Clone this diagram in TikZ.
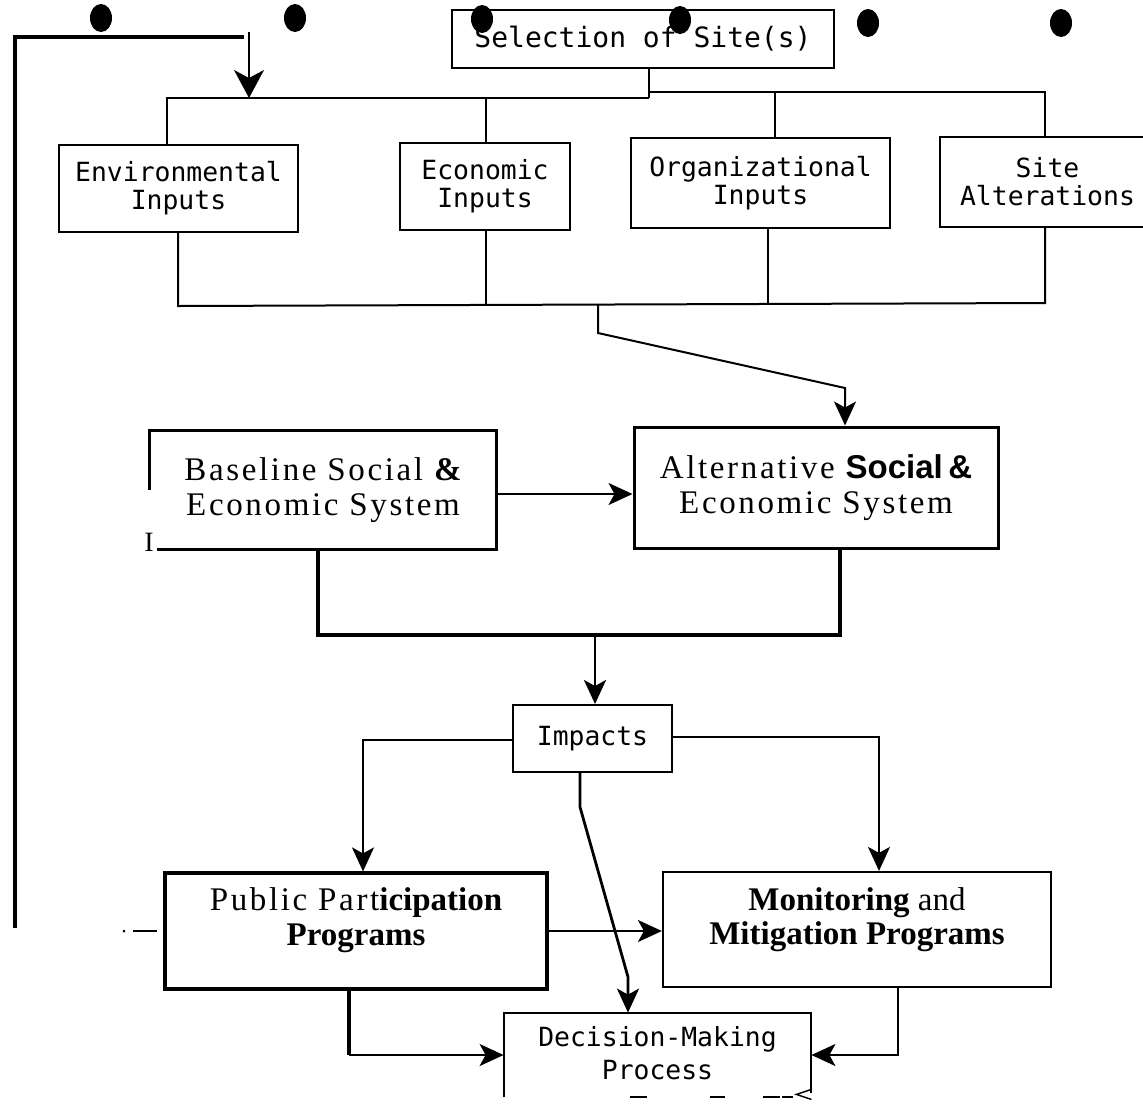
\documentclass[tikz,border=0pt]{standalone}
\usepackage{fontspec}
\setmainfont{Liberation Serif}
\setmonofont{DejaVu Sans Mono}
\newfontfamily\spacedserif[LetterSpace=8]{Liberation Serif}
\newfontfamily\plainserif{Liberation Serif}
\usetikzlibrary{arrows.meta}
\begin{document}
\begin{tikzpicture}[x=0.5pt,y=-0.5pt,
  wire/.style={line width=1pt},
  heavy/.style={line width=1.6pt},
  flow/.style={wire,-{Stealth[length=12pt,width=11pt,inset=3pt]}},
  thinflow/.style={line width=0.6pt,-{Stealth[length=14pt,width=15pt,inset=4pt]}},
  monobox/.style={draw,line width=1pt,inner sep=0pt,align=center,
    font=\ttfamily\fontsize{13.2}{14}\selectfont},
  seriftext/.style={inner sep=0pt,align=center,font=\spacedserif\fontsize{16.5}{17.5}\selectfont},
  framebox/.style={draw,inner sep=0pt},
  hole/.style={fill=black}
]
\useasboundingbox (0,0) rectangle (1143,1104);
\clip (0,0) rectangle (1143,1104);

% ---- top row ----
\node[monobox,minimum width=191pt,minimum height=29pt,
      font=\ttfamily\fontsize{14}{15}\selectfont] (sel) at (643,39) {Selection of Site(s)};
\node[monobox,minimum width=119.5pt,minimum height=43.5pt] (env) at (178.5,188.5) {Environmental\\Inputs};
\node[monobox,minimum width=85pt,minimum height=43.5pt] (eco) at (485,186.5) {Economic\\Inputs};
\node[monobox,minimum width=129.5pt,minimum height=45pt] (org) at (760.5,183) {Organizational\\Inputs};
\node[monobox,minimum width=107.5pt,minimum height=45pt] (site) at (1047.5,182) {Site\\Alterations};

% distribution bus under the site selection (left half sits a little lower)
\coordinate (tb0) at (167,98);
\coordinate (tbL) at (649,98);
\coordinate (tbs) at (649,92);
\coordinate (tb1) at (486,98);
\coordinate (tb2) at (775,92);
\coordinate (tb3) at (1045,92);
\draw[wire] (sel.south -| tbs) -- (tbs) -- (tbL);
\draw[wire] (env.north -| tb0) -- (tb0) -- (tbL);
\draw[wire] (tbs) -- (tb3) -- (site.north -| tb3);
\draw[wire] (tb1) -- (eco.north -| tb1);
\draw[wire] (tb2) -- (org.north -| tb2);

% collecting bus under the inputs
\coordinate (lb0) at (178,306);
\coordinate (lb1) at (486,306);
\coordinate (lb2) at (768,304);
\coordinate (lb3) at (1045,303);
\coordinate (lbm) at (598,305);
\draw[wire] (env.south -| lb0) -- (lb0) -- (lb3) -- (site.south -| lb3);
\draw[wire] (eco.south -| lb1) -- (lb1);
\draw[wire] (org.south -| lb2) -- (lb2);

% ---- social and economic systems ----
\node[seriftext,minimum width=173pt,minimum height=59pt] (base) at (323,490)
  {Baseline Social {\plainserif\bfseries\&}\\Economic System};
\draw[heavy] (base.west) -- (base.north west) -- (base.north east)
  -- (base.south east) -- ([xshift=3.5pt]base.south west);
\node[inner sep=0pt,font=\plainserif\fontsize{14}{14}\selectfont] (bar) at (149,542) {I};

\node[seriftext,framebox,line width=1.5pt,minimum width=182pt,minimum height=60.5pt] (alt) at (816,487.5)
  {Alternative {\fontspec{Liberation Sans}\bfseries Social\,\&}\\Economic System};

\coordinate (k1) at (598,333);
\coordinate (k2) at (845,388);
\draw[flow] (lbm) -- (k1) -- (k2) -- (alt.north -| k2);
\draw[flow] (base.east |- 0,494) -- (alt.west |- 0,494);

% merging bus into the impacts
\coordinate (mb0) at (318,635);
\coordinate (mb1) at (840,635);
\coordinate (mbm) at (595,635);
\draw[heavy] (base.south -| mb0) -- (mb0) -- (mb1) -- (alt.south -| mb1);

% ---- impacts ----
\node[monobox,minimum width=79.5pt,minimum height=33.5pt] (imp) at (592.5,738.5) {Impacts};
\draw[flow,line width=1.4pt] (mbm) -- (imp.north -| mbm);

% ---- programmes ----
\node[framebox,line width=1.6pt,minimum width=191pt,minimum height=58pt] (pub) at (356,931) {};
\node[seriftext] (pubtext) at (356,920.5)
  {Public Part{\plainserif\bfseries icipation}\\{\plainserif\bfseries Programs}};
\node[framebox,line width=1.1pt,minimum width=194pt,minimum height=57.5pt] (mon) at (857,929.5) {};
\node[inner sep=0pt,align=center,font=\plainserif\fontsize{16.5}{17}\selectfont] (montext) at (857,920)
  {\textbf{Monitoring} and\\\textbf{Mitigation Programs}};

\coordinate (ip) at (363,740);
\coordinate (im) at (879,737);
\draw[flow] (imp.west |- ip) -- (ip) -- (pub.north -| ip);
\draw[flow] (imp.east |- im) -- (im) -- (mon.north -| im);
\draw[flow] (pub.east) -- (pub.east -| mon.west);

% ---- decision making ----
\node[inner sep=0pt,minimum width=153.5pt,minimum height=42pt] (dec) at (657.5,1055) {};
\node[inner sep=0pt,align=center,font=\ttfamily\fontsize{13.2}{16.5}\selectfont] (dectext) at (657.5,1053.5)
  {Decision-Making\\Process};
\draw[wire] (dec.south west) -- (dec.north west) -- (dec.north east) -- ([yshift=2pt]dec.south east);
\draw[wire] ([xshift=63pt]dec.south west) -- ++(17,0)
            ([xshift=103pt]dec.south west) -- ++(15,0)
            ([xshift=129.5pt]dec.south west) -- ++(17,0)
            ([xshift=139pt]dec.south west) -- ++(11,0);
\draw[line width=0.7pt] ([yshift=4pt]dec.south east) -- ++(-15,5) -- ++(15,5);

\coordinate (d1) at (580,807);
\coordinate (d2) at (628,977);
\draw[flow,line width=1.4pt] (imp.south -| d1) -- (d1) -- (d2) -- (dec.north -| d2);

\coordinate (pd) at (349,1055);
\coordinate (md) at (898,1055);
\draw[heavy] (pub.south -| pd) -- (pd);
\draw[flow] (pd) -- (dec.west |- pd);
\draw[flow] (mon.south -| md) -- (md) -- (dec.east |- md);

% ---- feedback loop ----
\coordinate (fbB) at (15,928);
\coordinate (fbT) at (15,37);
\coordinate (fbR) at (244,37);
\coordinate (fbS) at (249,32);
\coordinate (fbIn) at (249,98);
\draw[heavy,line width=2pt] (fbB) -- (fbT) -- (fbR);
\draw[thinflow] (fbS) -- (fbIn);
\fill (124,931) circle (1.5);
\draw[line width=0.8pt] (133,931) -- (157,931);

% ---- binder holes ----
\foreach \hx/\hy in {101/18, 295/18, 482/19, 680/20, 868/23, 1061/23}
  \fill[hole] (\hx,\hy) ellipse [x radius=11, y radius=14];
\end{tikzpicture}
\end{document}
